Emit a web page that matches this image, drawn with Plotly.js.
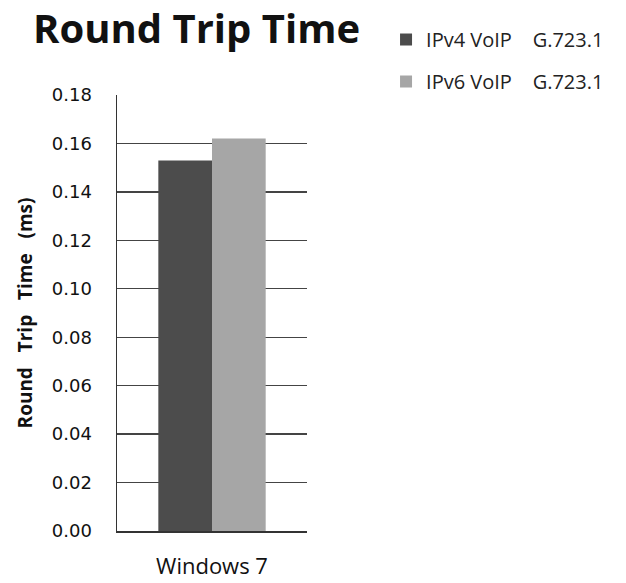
<!DOCTYPE html>
<html>
<head>
<meta charset="utf-8">
<script src="https://cdn.plot.ly/plotly-3.0.1.min.js"></script>
<style>html,body{margin:0;padding:0;background:#fff;}#chart{width:626px;height:583px;}</style>
</head>
<body>
<div id="chart"></div>
<script>
const categories = ["Windows 7"];
const seriesNames = ["IPv4 VoIP\u00a0\u00a0\u00a0\u00a0G.723.1", "IPv6 VoIP\u00a0\u00a0\u00a0\u00a0G.723.1"];
const ipv4Values = [0.153];
const ipv6Values = [0.162];
const yTickVals = [0, 0.02, 0.04, 0.06, 0.08, 0.10, 0.12, 0.14, 0.16, 0.18];
const yTickText = ["0.00", "0.02", "0.04", "0.06", "0.08", "0.10", "0.12", "0.14", "0.16", "0.18"];
const yTitle = "Round\u00a0\u00a0\u00a0Trip\u00a0\u00a0\u00a0Time\u00a0\u00a0\u00a0(ms)";

const FONT = "Open Sans, Noto Sans, sans-serif";
const TICKFONT = "DejaVu Sans, Verdana, sans-serif";

const traces = [
  {type: "bar", x: categories, y: ipv4Values, name: seriesNames[0], legendgroup: "a",
   marker: {color: "#4c4c4c"}},
  {type: "bar", x: categories, y: ipv6Values, name: seriesNames[1], legendgroup: "b",
   marker: {color: "#a6a6a6"}}
];

const layout = {
  width: 626, height: 583,
  margin: {l: 117, r: 319, t: 95, b: 52},
  paper_bgcolor: "#fff", plot_bgcolor: "#fff",
  font: {family: FONT, color: "#000"},
  title: {text: "<b>Round Trip Time</b>", font: {size: 40, family: FONT, color: "#111"},
          x: 0.314, xanchor: "center", y: 0.951, yanchor: "middle"},
  barmode: "group", bargap: 0.435, bargroupgap: 0,
  showlegend: true,
  legend: {x: 1.416, xanchor: "left", y: 1.172, yanchor: "top",
           font: {size: 20, family: FONT, color: "#222"}, tracegroupgap: 13,
           itemwidth: 30, bgcolor: "rgba(0,0,0,0)"},
  xaxis: {type: "category", showline: true, linecolor: "#333", linewidth: 1.5,
          ticks: "", tickfont: {size: 22, family: FONT, color: "#111"}, ticklabelstandoff: 15},
  yaxis: {range: [0, 0.18], tickvals: yTickVals, ticktext: yTickText,
          showgrid: true, gridcolor: "#444", gridwidth: 1.3,
          showline: true, linecolor: "#333", linewidth: 1.5, zeroline: false,
          ticks: "", tickfont: {size: 18, family: TICKFONT, color: "#111"}, ticklabelstandoff: 20,
          title: {text: "<b>" + yTitle + "</b>", font: {size: 19, family: FONT, color: "#111"}, standoff: 14}}
};

Plotly.newPlot("chart", traces, layout, {displayModeBar: false, staticPlot: true});
</script>
</body>
</html>
